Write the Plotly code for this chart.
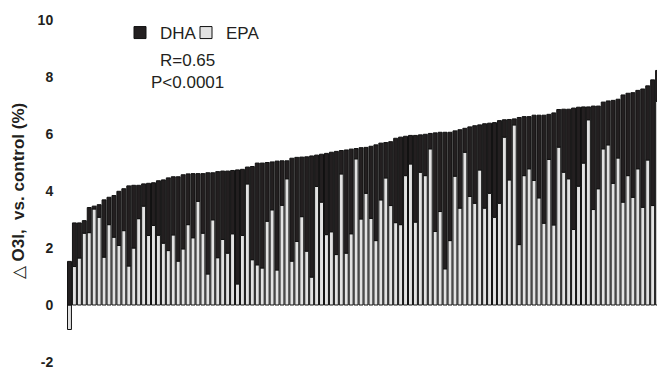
import plotly.graph_objects as go

subjects = list(range(1, 122))

epa = [-0.86, 1.35, 1.65, 2.52, 2.54, 3.37, 3.08, 1.68, 2.82, 2.38,
       2.09, 2.61, 1.37, 2.00, 3.03, 3.47, 2.44, 2.79, 2.45, 2.17,
       1.91, 2.46, 1.54, 1.97, 2.82, 2.36, 3.64, 2.52, 1.09, 2.99,
       1.66, 2.30, 1.82, 2.50, 0.74, 2.44, 4.25, 1.59, 1.41, 1.30,
       2.94, 3.34, 1.23, 3.50, 4.43, 1.54, 2.23, 3.10, 1.89, 0.98,
       4.16, 3.61, 2.47, 2.57, 1.77, 4.60, 1.82, 2.50, 5.13, 3.02,
       3.92, 3.04, 2.26, 3.69, 4.46, 3.49, 2.89, 2.82, 4.54, 4.95,
       2.91, 4.66, 4.54, 5.48, 2.58, 3.28, 1.27, 2.26, 4.52, 3.40,
       5.36, 3.81, 3.57, 4.74, 3.40, 3.92, 3.08, 3.57, 5.89, 4.39,
       6.32, 2.12, 4.54, 4.78, 4.37, 3.76, 2.87, 5.11, 2.81, 5.54,
       4.66, 4.43, 2.65, 4.17, 4.98, 6.50, 3.35, 4.08, 5.48, 5.62,
       4.27, 5.16, 3.61, 4.54, 3.78, 4.78, 3.43, 5.09, 3.49, 7.15,
       4.64]

dha = [1.53, 1.53, 1.23, 0.44, 0.88, 0.10, 0.44, 2.01, 0.96, 1.46,
       1.90, 1.47, 2.81, 2.20, 1.17, 0.78, 1.83, 1.50, 1.91, 2.22,
       2.55, 2.04, 2.96, 2.60, 1.78, 2.25, 0.97, 2.09, 3.55, 1.65,
       3.02, 2.40, 2.88, 2.22, 4.00, 2.32, 0.59, 3.27, 3.57, 3.68,
       2.06, 1.68, 3.82, 1.56, 0.63, 3.61, 2.95, 2.09, 3.31, 4.25,
       1.10, 1.68, 2.85, 2.79, 3.62, 0.82, 3.62, 2.97, 0.36, 2.50,
       1.61, 2.53, 3.36, 1.99, 1.24, 2.24, 2.96, 3.07, 1.38, 1.00,
       3.04, 1.31, 1.45, 0.54, 3.46, 2.78, 4.79, 3.80, 1.59, 2.75,
       0.84, 2.44, 2.72, 1.58, 2.96, 2.46, 3.32, 2.90, 0.61, 2.12,
       0.21, 4.46, 2.07, 1.83, 2.29, 2.90, 3.79, 1.58, 3.93, 1.32,
       2.21, 2.44, 4.26, 2.77, 1.97, 0.45, 3.63, 2.90, 1.64, 1.54,
       2.91, 2.06, 3.76, 2.89, 3.67, 2.75, 4.15, 2.60, 4.41, 1.08,
       3.59]

y_ticks = [-2, 0, 2, 4, 6, 8, 10]

fig = go.Figure()
# EPA first so that DHA is stacked on top of it
fig.add_trace(go.Bar(
    x=subjects, y=epa, name="EPA", legend="legend2",
    marker=dict(color="#e2e2e2", line=dict(color="#111111", width=1)),
))
fig.add_trace(go.Bar(
    x=subjects, y=dha, name="DHA", legend="legend",
    marker=dict(color="#231f20", line=dict(color="#111111", width=1)),
))

# The page body has an 8px margin, so the figure is 8px smaller and the
# margins are reduced accordingly to keep the plot area in place.
W, H = 657, 361
L, T, B = 59, 12, 7
PW, PH = W - L, H - T - B

legend_style = dict(
    orientation="h", yanchor="top", xanchor="left",
    y=1 + (20 - 15) / PH,
    font=dict(size=17, color="#231f20"),
    itemwidth=30, bgcolor="rgba(0,0,0,0)", borderwidth=0,
)

fig.update_layout(
    width=W, height=H,
    barmode="relative",
    bargap=0.2,
    plot_bgcolor="white", paper_bgcolor="white",
    margin=dict(l=L, r=0, t=T, b=B, autoexpand=False),
    font=dict(family="Liberation Sans, Arial, sans-serif", color="#231f20"),
    legend=dict(legend_style, x=(120 - 67) / PW),
    legend2=dict(legend_style, x=(186 - 67) / PW),
    showlegend=True,
)

fig.update_xaxes(visible=False, range=[0.5, 121.5])
fig.update_yaxes(
    range=[-2, 10], tickvals=y_ticks, ticktext=[f"<b>{v}</b>" for v in y_ticks],
    showgrid=False, zeroline=False, showline=False,
    ticks="outside", ticklen=10, tickcolor="rgba(0,0,0,0)",
    ticklabeloverflow="allow",
    tickfont=dict(size=14, color="#231f20"),
    title=dict(text="△ <b>O3I,  vs. control (%)</b>",
               font=dict(size=17, color="#231f20"), standoff=8),
)

fig.add_annotation(
    text="R=0.65<br>P&lt;0.0001", xref="paper", yref="paper",
    x=(187 - 67) / PW, y=1 - (71 - 20) / PH, xanchor="center", yanchor="middle",
    showarrow=False, font=dict(size=17, color="#231f20"), align="center",
)

fig.write_html("out.html")
